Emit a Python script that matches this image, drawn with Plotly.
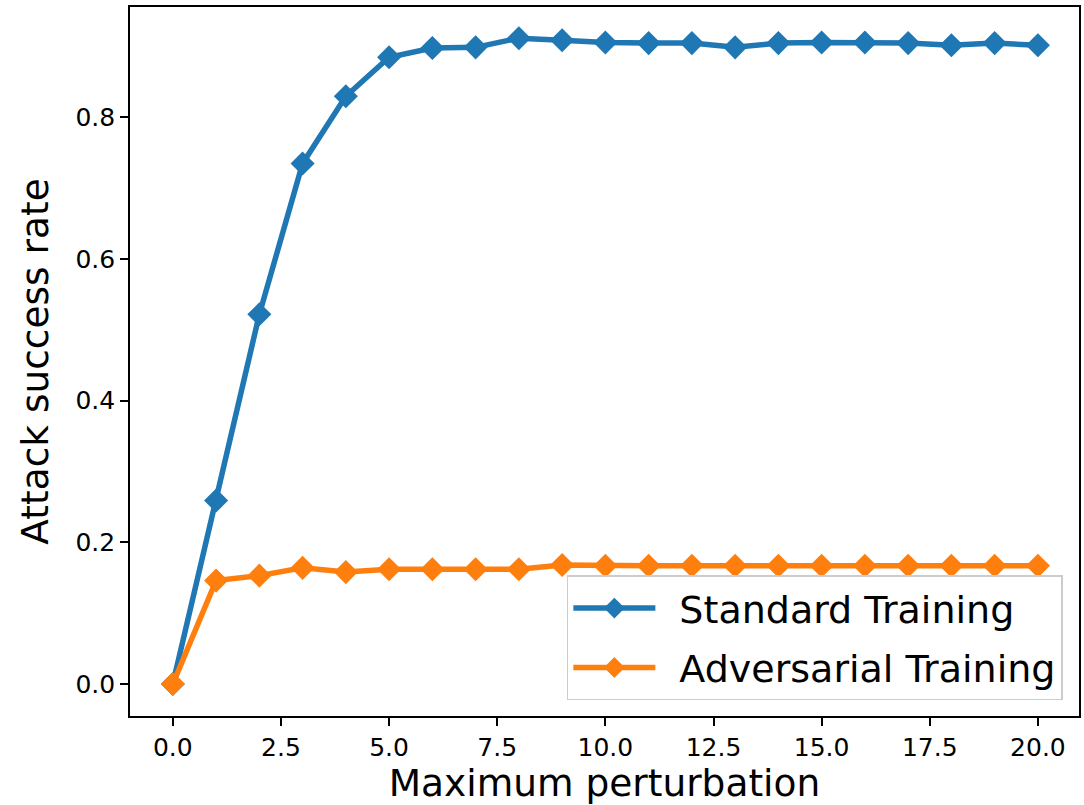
import plotly.graph_objects as go

perturbation = list(range(0, 21))
standard_training = [0.0, 0.259, 0.522, 0.735, 0.830, 0.885, 0.898, 0.899, 0.912, 0.909,
                     0.906, 0.905, 0.905, 0.899, 0.905, 0.906, 0.906, 0.905, 0.902, 0.905, 0.902]
adversarial_training = [0.0, 0.146, 0.153, 0.164, 0.158, 0.162, 0.162, 0.162, 0.162, 0.168,
                        0.167, 0.167, 0.167, 0.167, 0.167, 0.167, 0.167, 0.167, 0.167, 0.167, 0.167]
series_names = ["Standard Training", "Adversarial Training"]
colors = ["#1f77b4", "#ff7f0e"]
x_ticks = [0, 2.5, 5, 7.5, 10, 12.5, 15, 17.5, 20]
y_ticks = [0, 0.2, 0.4, 0.6, 0.8]

FONT = "DejaVu Sans"
fig = go.Figure()
for i, (name, vals) in enumerate(zip(series_names, [standard_training, adversarial_training])):
    fig.add_trace(go.Scatter(
        x=perturbation, y=vals, name="\u2002" + name, mode="lines+markers",
        line=dict(color=colors[i], width=5.5),
        marker=dict(symbol="diamond", size=18.5, color=colors[i]),
        legendgroup=f"g{i}",
    ))

axis_common = dict(
    showline=True, linecolor="black", linewidth=1.6, mirror=True,
    ticks="outside", ticklen=8, tickwidth=1.6, tickcolor="black",
    showgrid=False, zeroline=False,
    tickfont=dict(family=FONT, size=25, color="black"),
)
fig.update_layout(
    width=1084, height=805,
    margin=dict(l=130, r=3, t=7, b=89),
    paper_bgcolor="white", plot_bgcolor="white",
    font=dict(family=FONT, color="black"),
    showlegend=True,
    legend=dict(
        x=0.983, y=0.022, xanchor="right", yanchor="bottom",
        bgcolor="rgba(255,255,255,0.8)", bordercolor="#cccccc", borderwidth=1.5,
        font=dict(family=FONT, size=38, color="black"),
        itemwidth=82, tracegroupgap=7,
    ),
    xaxis=dict(
        axis_common, range=[-0.99, 20.95], tickvals=x_ticks, tickformat=".1f",
        title=dict(text="Maximum perturbation", font=dict(family=FONT, size=37.5, color="black"), standoff=5),
    ),
    yaxis=dict(
        axis_common, range=[-0.0452, 0.956], tickvals=y_ticks, tickformat=".1f",
        title=dict(text="Attack success rate", font=dict(family=FONT, size=37.5, color="black"), standoff=15),
    ),
)
fig.write_html("out.html")
